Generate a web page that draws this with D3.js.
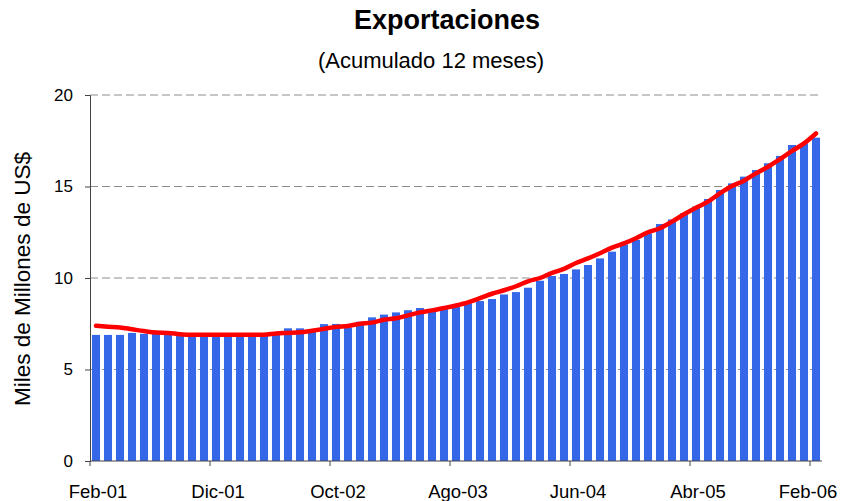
<!DOCTYPE html>
<html>
<head>
<meta charset="utf-8">
<script src="https://cdn.jsdelivr.net/npm/d3@7"></script>
<style>
  body { margin: 0; background: #fff; }
  text { font-family: "Liberation Sans", Arial, sans-serif; fill: #000; }
</style>
</head>
<body>
<div id="chart"></div>
<script>
/** DATA */
const monthNames = ["Ene", "Feb", "Mar", "Abr", "May", "Jun", "Jul", "Ago", "Sep", "Oct", "Nov", "Dic"];
const years = ["01", "02", "03", "04", "05", "06"];
// Feb-01 .. Feb-06, monthly
const categories = [];
years.forEach((y, yi) => monthNames.forEach((m, mi) => {
  if ((yi === 0 && mi < 1) || (yi === 5 && mi > 1)) return;
  categories.push(m + "-" + y);
}));

// bars: exportaciones (miles de millones US$)
const barValues = [
  6.89, 6.89, 6.89, 7.00, 6.95, 6.95, 7.10, 6.83, 6.83, 6.83,
  6.83, 6.83, 6.83, 6.83, 6.83, 6.92, 7.25, 7.25, 7.10, 7.48,
  7.49, 7.30, 7.61, 7.85, 8.00, 8.12, 8.24, 8.36, 8.22, 8.38,
  8.47, 8.62, 8.74, 8.85, 9.10, 9.23, 9.47, 9.85, 10.11, 10.22,
  10.47, 10.71, 11.07, 11.44, 11.84, 12.08, 12.44, 12.95, 13.20, 13.53,
  13.90, 14.32, 14.81, 15.17, 15.54, 15.90, 16.27, 16.67, 17.27, 17.36,
  17.67
];
// red line
const lineValues = [
  7.39, 7.34, 7.30, 7.20, 7.10, 7.02, 7.00, 6.93, 6.90, 6.90,
  6.90, 6.90, 6.90, 6.90, 6.90, 6.97, 7.00, 7.03, 7.12, 7.22,
  7.33, 7.38, 7.50, 7.56, 7.72, 7.80, 7.96, 8.12, 8.23, 8.36,
  8.50, 8.67, 8.90, 9.14, 9.33, 9.55, 9.82, 10.00, 10.28, 10.50,
  10.82, 11.07, 11.35, 11.66, 11.89, 12.17, 12.50, 12.72, 13.08, 13.48,
  13.84, 14.17, 14.63, 15.03, 15.32, 15.72, 16.08, 16.49, 16.94, 17.36,
  17.90
];
const yTicks = [0, 5, 10, 15, 20];
const xTickLabels = ["Feb-01", "Dic-01", "Oct-02", "Ago-03", "Jun-04", "Abr-05", "Feb-06"];

/** CONSTANTS */
const width = 848;
const height = 501;
const margins = { top: 95, bottom: 40, left: 90, right: 26 };

const xScale = d3.scaleBand()
  .domain(categories)
  .range([margins.left, width - margins.right])
  .paddingInner(0.33)
  .paddingOuter(0.165);
const step = xScale.step();
const center = d => xScale(d) + xScale.bandwidth() / 2;
const boundary = d => center(d) - step / 2;

const yScale = d3.scaleLinear()
  .domain([0, 20])
  .range([height - margins.bottom, margins.top]);

const svg = d3.select("#chart")
  .append("svg")
  .attr("width", width)
  .attr("height", height);

// title
svg.append("text")
  .attr("x", 447).attr("y", 29)
  .attr("text-anchor", "middle")
  .attr("font-size", 27).attr("font-weight", "bold")
  .text("Exportaciones");
svg.append("text")
  .attr("x", 431).attr("y", 68)
  .attr("text-anchor", "middle")
  .attr("font-size", 22)
  .text("(Acumulado 12 meses)");

// grid
svg.selectAll("line.grid")
  .data(yTicks.filter(d => d > 0))
  .join("line")
  .attr("class", "grid")
  .attr("x1", margins.left).attr("x2", width - margins.right)
  .attr("y1", d => yScale(d)).attr("y2", d => yScale(d))
  .attr("stroke", "#8c8c8c")
  .attr("stroke-dasharray", "8,4");

// bars
svg.selectAll("rect.bar")
  .data(barValues)
  .join("rect")
  .attr("class", "bar")
  .attr("x", (d, i) => xScale(categories[i]))
  .attr("width", xScale.bandwidth())
  .attr("y", d => yScale(d))
  .attr("height", d => yScale(0) - yScale(d))
  .attr("fill", "#3568e8");

// line
const line = d3.line()
  .x((d, i) => center(categories[i]))
  .y(d => yScale(d))
  .curve(d3.curveMonotoneX);
svg.append("path")
  .datum(lineValues)
  .attr("d", line)
  .attr("fill", "none")
  .attr("stroke", "#ff0000")
  .attr("stroke-width", 4.5)
  .attr("stroke-linecap", "round")
  .attr("stroke-linejoin", "round");

// y axis
const yAxis = svg.append("g")
  .attr("transform", `translate(${margins.left},0)`)
  .call(d3.axisLeft(yScale).tickValues(yTicks).tickSize(5).tickPadding(12));
yAxis.select(".domain").attr("stroke", "#444");
yAxis.selectAll(".tick line").attr("stroke", "#444");
yAxis.selectAll("text").attr("font-size", 17).attr("font-family", "Liberation Sans, Arial, sans-serif");

svg.append("text")
  .attr("transform", `translate(30,279) rotate(-90)`)
  .attr("text-anchor", "middle")
  .attr("font-size", 22.5)
  .text("Miles de Millones de US$");

// x axis
const xAxisG = svg.append("g");
xAxisG.append("line")
  .attr("x1", margins.left).attr("x2", width - margins.right)
  .attr("y1", yScale(0)).attr("y2", yScale(0))
  .attr("stroke", "#444");
xAxisG.selectAll("line.xtick")
  .data(xTickLabels)
  .join("line")
  .attr("class", "xtick")
  .attr("x1", d => boundary(d)).attr("x2", d => boundary(d))
  .attr("y1", yScale(0)).attr("y2", yScale(0) + 5)
  .attr("stroke", "#444");
xAxisG.selectAll("text")
  .data(xTickLabels)
  .join("text")
  .attr("x", d => Math.min(center(d) + 2, width - 40))
  .attr("y", 498)
  .attr("text-anchor", "middle")
  .attr("font-size", 18.5)
  .text(d => d);
</script>
</body>
</html>
